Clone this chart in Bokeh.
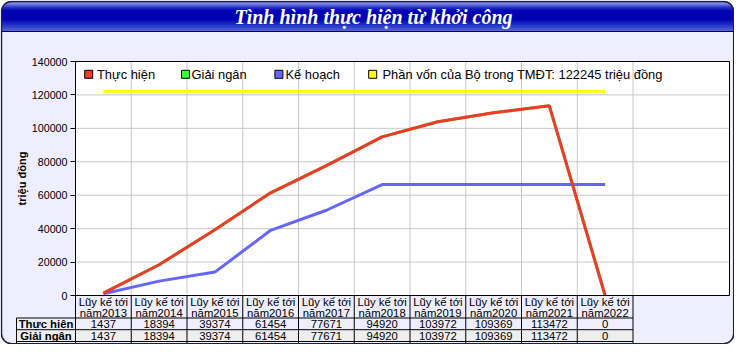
import math
from bokeh.plotting import figure
from bokeh.models import Range1d, LinearAxis, FixedTicker, NumeralTickFormatter, ColumnDataSource
from bokeh.core.properties import value
from bokeh.embed import file_html
from bokeh.resources import INLINE

# ---------------- data ----------------
years = ["2013", "2014", "2015", "2016", "2017", "2018", "2019", "2020", "2021", "2022"]
header_prefix = "Lũy kế tới"
thuc_hien = [1437, 18394, 39374, 61454, 77671, 94920, 103972, 109369, 113472, 0]
giai_ngan = [1437, 18394, 39374, 61454, 77671, 94920, 103972, 109369, 113472, 0]
ke_hoach = [1000, 8600, 14000, 39000, 51000, 66400, 66400, 66400, 66400, 66400]
von_bo = 122245
y_ticks = [0, 20000, 40000, 60000, 80000, 100000, 120000, 140000]
legend_labels = ["Thực hiện", "Giải ngân", "Kế hoạch",
                 "Phần vốn của Bộ trong TMĐT: %d triệu đồng" % von_bo]
row_labels = ["Thực hiên", "Giải ngân"]
title_text = "Tình hình thực hiện từ khởi công"
y_label = "triệu đồng"

# ---------------- layout (figure pixels) ----------------
W, H = 734, 344
PL, PT, PB = 75, 61, 295          # plot frame left / top / bottom
SLOT_W = 55.75                    # width of one category slot
PLOT_R = 729                      # plot frame right
YMAX = 140000
FRAME_L, FRAME_R, FRAME_T, FRAME_B = 1.0, 733.2, 1.0, 343.2
TITLE_BOT = 31
RADIUS = 10
LABEL_COL_L = 16
HDR_BOT, ROW1_BOT, ROW2_BOT = 317.5, 329.2, 341.0

BG = "#EEEEFF"
RED, GREEN, BLUE, YELLOW = "#F2382A", "#33FF33", "#6666FF", "#FFFF00"
SANS = "Liberation Sans"


def X(px):
    return (px - PL) / SLOT_W


def Y(py):
    return (PB - py) / (PB - PT) * YMAX


n = len(years)
xs = [i + 0.5 for i in range(n)]
x_right = X(PLOT_R)

p = figure(width=W, height=H,
           x_range=Range1d(X(0), X(W)), y_range=Range1d(Y(H), Y(0)),
           x_axis_type=None, y_axis_type=None,
           toolbar_location=None, output_backend="svg",
           min_border=0, outline_line_color=None,
           background_fill_color="white", border_fill_color="white")

# outer rounded body
p.quad(left=X(FRAME_L), right=X(FRAME_R), top=Y(FRAME_T), bottom=Y(FRAME_B),
       fill_color=BG, line_color=None, border_radius=RADIUS)

# title bar gradient stripes (stops as fractions of the bar height)
stops = [(0.00, (0x40, 0x48, 0xa8)), (0.04, (0x90, 0x9a, 0xe8)), (0.10, (0x6a, 0x76, 0xdc)),
         (0.20, (0x24, 0x30, 0xc4)), (0.30, (0x04, 0x04, 0xb4)), (0.60, (0x00, 0x00, 0xb0)),
         (0.77, (0x20, 0x30, 0xc4)), (1.00, (0x5a, 0x6a, 0xdc))]


def grad(t):
    c = stops[-1][1]
    if t <= stops[0][0]:
        c = stops[0][1]
    else:
        for (t0, c0), (t1, c1) in zip(stops[:-1], stops[1:]):
            if t0 <= t <= t1:
                f = (t - t0) / (t1 - t0)
                c = tuple(int(round(a + (b - a) * f)) for a, b in zip(c0, c1))
                break
    return "#%02x%02x%02x" % c


sl, sr, st, sb, sc = [], [], [], [], []
bar_h = TITLE_BOT - FRAME_T
steps = 30
for k in range(steps):
    y0 = FRAME_T + bar_h * k / steps
    y1 = FRAME_T + bar_h * (k + 1) / steps
    yc = (y0 + y1) / 2
    inset = 0.0
    if yc < FRAME_T + RADIUS:
        dy = (FRAME_T + RADIUS) - yc
        inset = RADIUS - math.sqrt(max(RADIUS ** 2 - dy ** 2, 0))
    sl.append(X(FRAME_L + inset))
    sr.append(X(FRAME_R - inset))
    st.append(Y(y0))
    sb.append(Y(y1 + 0.4))
    sc.append(grad((yc - FRAME_T) / bar_h))
p.quad(left=sl, right=sr, top=st, bottom=sb, fill_color=sc, line_color=None)
p.segment(x0=X(FRAME_L), x1=X(FRAME_R), y0=Y(TITLE_BOT), y1=Y(TITLE_BOT),
          line_color="#000050", line_width=1.2)

# plot area
p.quad(left=0, right=x_right, top=YMAX, bottom=0, fill_color="white", line_color=None)
grid_x = list(range(1, n + 1))
p.segment(x0=grid_x, x1=grid_x, y0=0, y1=YMAX, line_color="#C8C8C8", line_width=1)
gy = [t for t in y_ticks if 0 < t < YMAX]
p.segment(x0=0, x1=x_right, y0=gy, y1=gy, line_color="#C8C8C8", line_width=1)

src = ColumnDataSource(dict(
    x=xs, th=thuc_hien, gn=giai_ngan, kh=ke_hoach,
    line1=[header_prefix] * n, line2=["năm" + y for y in years],
    th_txt=[str(v) for v in thuc_hien], gn_txt=[str(v) for v in giai_ngan]))

p.line(x=[xs[0], xs[-1]], y=[von_bo, von_bo], line_color=YELLOW, line_width=3)
p.line("x", "gn", source=src, line_color=GREEN, line_width=3)
p.line("x", "kh", source=src, line_color=BLUE, line_width=3)
p.line("x", "th", source=src, line_color=RED, line_width=3)

# plot frame border
p.quad(left=0, right=x_right, top=YMAX, bottom=0, fill_color=None, line_color="black", line_width=1)

# ---------------- data table ----------------
p.quad(left=X(LABEL_COL_L), right=n, top=Y(ROW1_BOT), bottom=Y(ROW2_BOT),
       fill_color="#EEEEEE", line_color=None)
col_x = list(range(0, n + 1))
p.segment(x0=col_x, x1=col_x, y0=0, y1=Y(FRAME_B - 0.5), line_color="black", line_width=1)
p.segment(x0=X(LABEL_COL_L), x1=X(LABEL_COL_L), y0=Y(HDR_BOT), y1=Y(FRAME_B - 0.5),
          line_color="black", line_width=1)
hl = [Y(HDR_BOT), Y(ROW1_BOT), Y(ROW2_BOT)]
p.segment(x0=X(LABEL_COL_L), x1=n, y0=hl, y1=hl, line_color="black", line_width=1)

tfs = "11.3px"
common = dict(text_align="center", text_baseline="middle", text_font=value(SANS),
              text_font_size=tfs, text_color="black")
p.text(x="x", y=Y(301.2), text="line1", source=src, **common)
p.text(x="x", y=Y(312.2), text="line2", source=src, **common)
p.text(x="x", y=Y(323.6), text="th_txt", source=src, **common)
p.text(x="x", y=Y(335.3), text="gn_txt", source=src, **common)
p.text(x=[X((LABEL_COL_L + PL) / 2)] * 2, y=[Y(323.6), Y(335.3)], text=row_labels,
       text_font_style="bold", **common)

# ---------------- legend ----------------
leg_sq = [88.2, 185.0, 278.4, 372.2]
leg_tx = [96.5, 191.0, 285.0, 382.0]
p.scatter(x=[X(v) for v in leg_sq], y=Y(73.8), marker="square", size=8,
          fill_color=[RED, GREEN, BLUE, YELLOW], line_color="black", line_width=1)
p.text(x=[X(v) for v in leg_tx], y=Y(74.2), text=legend_labels, text_align="left",
       text_baseline="middle", text_font=value(SANS), text_font_size="12.9px",
       text_color="black")

# ---------------- title ----------------
p.text(x=X(373), y=Y(16.8), text=[title_text], text_align="center", text_baseline="middle",
       text_font=value("Liberation Serif"), text_font_style="bold italic",
       text_font_size="20px", text_color="white")

# outer frame outline
p.quad(left=X(FRAME_L), right=X(FRAME_R), top=Y(FRAME_T), bottom=Y(FRAME_B),
       fill_color=None, line_color="#1c1c58", line_width=1.5, border_radius=RADIUS)

# ---------------- y axis ----------------
yax = LinearAxis(ticker=FixedTicker(ticks=y_ticks), formatter=NumeralTickFormatter(format="0"),
                 fixed_location=0, bounds=(0, YMAX), axis_label=y_label)
yax.major_label_text_font = SANS
yax.major_label_text_font_size = "10.7px"
yax.major_label_text_color = "black"
yax.major_label_standoff = 3
yax.major_tick_out = 5
yax.major_tick_in = 0
yax.minor_tick_out = 0
yax.minor_tick_in = 0
yax.axis_line_color = "black"
yax.major_tick_line_color = "black"
yax.axis_label_text_font = SANS
yax.axis_label_text_font_style = "bold"
yax.axis_label_text_font_size = "11px"
yax.axis_label_text_color = "black"
yax.axis_label_standoff = 1
p.add_layout(yax, "left")

open("out.html", "w").write(file_html(p, INLINE))
